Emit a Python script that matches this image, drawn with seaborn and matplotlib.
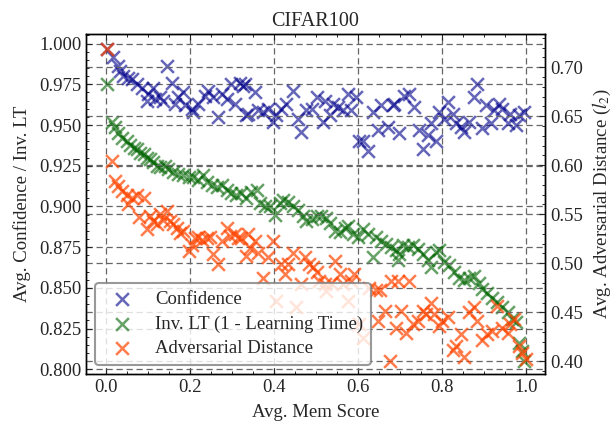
import matplotlib
matplotlib.use("Agg")
import matplotlib.pyplot as plt
from matplotlib.ticker import MultipleLocator, AutoMinorLocator
import seaborn as sns
import pandas as pd

# Average memorization score per bin and the three per-bin statistics
mem_conf = [0.002, 0.017, 0.028, 0.033, 0.041, 0.053, 0.061, 0.073, 0.085, 0.097,
            0.100, 0.112, 0.116, 0.128, 0.136, 0.144, 0.156, 0.164, 0.172, 0.184,
            0.188, 0.204, 0.207, 0.219, 0.235, 0.243, 0.255, 0.267, 0.275, 0.287,
            0.298, 0.306, 0.318, 0.326, 0.330, 0.334, 0.338, 0.354, 0.362, 0.374,
            0.386, 0.397, 0.405, 0.417, 0.429, 0.445, 0.457, 0.465, 0.477, 0.489,
            0.501, 0.516, 0.520, 0.532, 0.540, 0.552, 0.564, 0.576, 0.584, 0.595,
            0.603, 0.611, 0.623, 0.635, 0.647, 0.655, 0.671, 0.682, 0.686, 0.698,
            0.710, 0.722, 0.734, 0.746, 0.754, 0.766, 0.774, 0.786, 0.793, 0.805,
            0.813, 0.825, 0.833, 0.845, 0.853, 0.865, 0.876, 0.884, 0.894, 0.904,
            0.916, 0.924, 0.936, 0.944, 0.956, 0.963, 0.975, 0.983, 0.995]
confidence = [0.997, 0.992, 0.986, 0.983, 0.980, 0.979, 0.978, 0.975, 0.973, 0.965,
              0.969, 0.973, 0.966, 0.967, 0.965, 0.986, 0.976, 0.963, 0.967, 0.970,
              0.962, 0.960, 0.958, 0.963, 0.968, 0.971, 0.967, 0.955, 0.969, 0.966,
              0.975, 0.963, 0.976, 0.974, 0.975, 0.956, 0.957, 0.970, 0.959, 0.958,
              0.960, 0.952, 0.956, 0.960, 0.963, 0.971, 0.954, 0.946, 0.959, 0.960,
              0.967, 0.952, 0.965, 0.956, 0.963, 0.961, 0.959, 0.969, 0.959, 0.967,
              0.940, 0.940, 0.934, 0.958, 0.947, 0.962, 0.949, 0.962, 0.963, 0.945,
              0.968, 0.969, 0.961, 0.947, 0.935, 0.944, 0.951, 0.940, 0.958, 0.954,
              0.964, 0.957, 0.951, 0.949, 0.946, 0.952, 0.967, 0.975, 0.948, 0.962,
              0.951, 0.959, 0.963, 0.960, 0.951, 0.957, 0.950, 0.956, 0.958]

mem_lt = [0.002, 0.013, 0.021, 0.029, 0.037, 0.049, 0.057, 0.065, 0.073, 0.081,
          0.089, 0.097, 0.105, 0.112, 0.120, 0.128, 0.140, 0.148, 0.160, 0.172,
          0.184, 0.196, 0.207, 0.219, 0.231, 0.239, 0.251, 0.263, 0.275, 0.287,
          0.298, 0.310, 0.322, 0.334, 0.346, 0.358, 0.366, 0.378, 0.390, 0.401,
          0.413, 0.421, 0.433, 0.445, 0.457, 0.469, 0.477, 0.489, 0.501, 0.512,
          0.524, 0.532, 0.544, 0.556, 0.568, 0.576, 0.587, 0.599, 0.611, 0.623,
          0.635, 0.643, 0.655, 0.667, 0.679, 0.690, 0.694, 0.698, 0.706, 0.718,
          0.730, 0.742, 0.754, 0.766, 0.774, 0.786, 0.793, 0.805, 0.817, 0.829,
          0.841, 0.853, 0.865, 0.876, 0.888, 0.896, 0.908, 0.920, 0.932, 0.944,
          0.956, 0.967, 0.975, 0.983, 0.991, 0.995]
inv_lt = [0.975, 0.952, 0.949, 0.945, 0.942, 0.940, 0.938, 0.936, 0.935, 0.933,
          0.932, 0.930, 0.929, 0.927, 0.925, 0.924, 0.925, 0.923, 0.921, 0.920,
          0.919, 0.918, 0.918, 0.916, 0.919, 0.915, 0.913, 0.912, 0.913, 0.910,
          0.908, 0.907, 0.908, 0.905, 0.909, 0.910, 0.902, 0.900, 0.900, 0.895,
          0.902, 0.904, 0.903, 0.900, 0.898, 0.894, 0.891, 0.892, 0.894, 0.894,
          0.893, 0.890, 0.885, 0.884, 0.887, 0.888, 0.883, 0.881, 0.886, 0.883,
          0.869, 0.881, 0.879, 0.877, 0.875, 0.873, 0.867, 0.871, 0.876, 0.875,
          0.876, 0.874, 0.871, 0.867, 0.863, 0.872, 0.873, 0.866, 0.864, 0.860,
          0.856, 0.855, 0.856, 0.857, 0.853, 0.849, 0.847, 0.844, 0.841, 0.838,
          0.835, 0.831, 0.829, 0.816, 0.811, 0.805]

mem_adv = [0.002, 0.013, 0.021, 0.029, 0.037, 0.049, 0.053, 0.061, 0.073, 0.077,
           0.089, 0.097, 0.105, 0.112, 0.120, 0.128, 0.136, 0.144, 0.152, 0.160,
           0.168, 0.176, 0.184, 0.196, 0.204, 0.211, 0.219, 0.227, 0.239, 0.247,
           0.255, 0.267, 0.275, 0.287, 0.295, 0.306, 0.314, 0.322, 0.334, 0.338,
           0.342, 0.354, 0.362, 0.374, 0.386, 0.397, 0.405, 0.417, 0.425, 0.433,
           0.445, 0.453, 0.465, 0.473, 0.484, 0.492, 0.501, 0.508, 0.520, 0.524,
           0.536, 0.544, 0.556, 0.564, 0.576, 0.584, 0.591, 0.603, 0.611, 0.627,
           0.643, 0.647, 0.651, 0.663, 0.675, 0.679, 0.690, 0.694, 0.702, 0.714,
           0.722, 0.730, 0.742, 0.754, 0.762, 0.774, 0.781, 0.793, 0.801, 0.813,
           0.825, 0.833, 0.845, 0.853, 0.865, 0.876, 0.884, 0.896, 0.908, 0.920,
           0.932, 0.944, 0.956, 0.963, 0.971, 0.983, 0.991, 0.999]
adv_dist = [0.719, 0.604, 0.584, 0.579, 0.574, 0.570, 0.560, 0.567, 0.570, 0.547,
            0.567, 0.535, 0.548, 0.543, 0.540, 0.550, 0.544, 0.553, 0.543, 0.540,
            0.536, 0.531, 0.533, 0.513, 0.519, 0.526, 0.527, 0.524, 0.526, 0.527,
            0.509, 0.499, 0.523, 0.536, 0.528, 0.530, 0.526, 0.526, 0.507, 0.530,
            0.516, 0.523, 0.511, 0.485, 0.506, 0.523, 0.462, 0.499, 0.489, 0.499,
            0.511, 0.455, 0.479, 0.506, 0.499, 0.496, 0.491, 0.482, 0.479, 0.472,
            0.480, 0.502, 0.489, 0.479, 0.462, 0.482, 0.489, 0.438, 0.424, 0.475,
            0.473, 0.441, 0.473, 0.451, 0.400, 0.482, 0.434, 0.482, 0.451, 0.429,
            0.482, 0.438, 0.441, 0.451, 0.448, 0.460, 0.448, 0.436, 0.441, 0.445,
            0.412, 0.416, 0.428, 0.404, 0.450, 0.455, 0.441, 0.422, 0.428, 0.431,
            0.456, 0.434, 0.429, 0.438, 0.443, 0.416, 0.409, 0.402]

sns.set_style("ticks")
plt.rcParams.update({
    "font.family": ["Liberation Serif", "DejaVu Serif"],
    "mathtext.fontset": "stix",
    "font.size": 13.5,
    "xtick.direction": "in",
    "ytick.direction": "in",
    "xtick.top": True,
    "xtick.major.size": 4,
    "xtick.minor.size": 2,
    "ytick.major.size": 4,
    "ytick.minor.size": 2,
    "xtick.major.width": 0.8,
    "ytick.major.width": 0.8,
    "xtick.minor.width": 0.7,
    "ytick.minor.width": 0.7,
    "axes.linewidth": 1.0,
    "axes.edgecolor": "black",
})

fig, ax = plt.subplots(figsize=(6.15, 4.34), dpi=100)
fig.subplots_adjust(left=0.140, right=0.886, bottom=0.138, top=0.922)
ax2 = ax.twinx()

df_conf = pd.DataFrame({"mem": mem_conf, "val": confidence})
df_lt = pd.DataFrame({"mem": mem_lt, "val": inv_lt})
df_adv = pd.DataFrame({"mem": mem_adv, "val": adv_dist})

marker_kw = dict(marker="x", s=85, linewidth=1.8)
sns.scatterplot(data=df_conf, x="mem", y="val", color="darkblue", alpha=0.6,
                ax=ax, label="Confidence", legend=False, **marker_kw)
sns.scatterplot(data=df_lt, x="mem", y="val", color="darkgreen", alpha=0.6,
                ax=ax, label="Inv. LT (1 - Learning Time)", legend=False,
                **marker_kw)
sns.scatterplot(data=df_adv, x="mem", y="val", color="orangered", alpha=0.7,
                ax=ax2, label="Adversarial Distance", legend=False, **marker_kw)

ax.set_xlim(-0.048, 1.045)
ax.set_ylim(0.797, 1.006)
ax2.set_ylim(0.387, 0.734)

ax.xaxis.set_major_locator(MultipleLocator(0.2))
ax.xaxis.set_minor_locator(AutoMinorLocator(4))
ax.yaxis.set_major_locator(MultipleLocator(0.025))
ax.yaxis.set_minor_locator(AutoMinorLocator(5))
ax2.yaxis.set_major_locator(MultipleLocator(0.05))
ax2.yaxis.set_minor_locator(AutoMinorLocator(5))
ax.tick_params(which="both", top=True, right=False)
ax2.tick_params(which="both", direction="in", right=True, left=False)

grid_kw = dict(linestyle=(0, (5, 3)), color="0.4", linewidth=0.9)
ax.grid(True, which="major", **grid_kw)
ax2.grid(True, which="major", axis="y", **grid_kw)

ax.set_title("CIFAR100", fontsize=14.5)
ax.set_xlabel("Avg. Mem Score", labelpad=6)
ax.set_ylabel("Avg. Confidence / Inv. LT", labelpad=6)
ax2.set_ylabel("Avg. Adversarial Distance ($l_2$)", labelpad=6)

handles = ax.collections + ax2.collections
labels = ["Confidence", "Inv. LT (1 - Learning Time)", "Adversarial Distance"]
leg = ax2.legend(handles, labels, loc="lower left", frameon=True, fancybox=True,
                 framealpha=0.8, edgecolor="gray", labelspacing=0.4,
                 fontsize=13.5)
leg.get_frame().set_linewidth(1.5)

fig.savefig("out.png", dpi=100)
